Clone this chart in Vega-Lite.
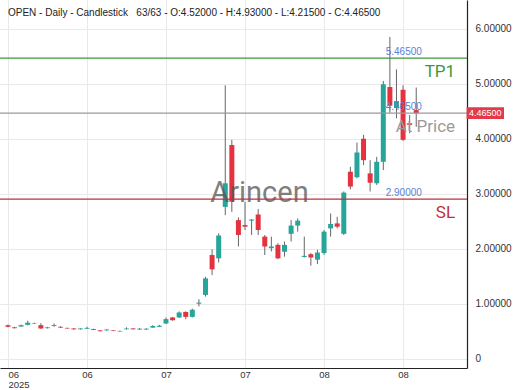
{
  "$schema": "https://vega.github.io/schema/vega-lite/v6.json",
  "width": 467,
  "height": 368,
  "autosize": "none",
  "padding": {"left": 0, "top": 0, "right": 53, "bottom": 22},
  "background": "white",
  "config": {
    "view": {"stroke": null},
    "font": "Liberation Sans",
    "axis": {"labelFont": "Liberation Sans", "labelColor": "#333", "ticks": false, "gridColor": "#e9e9e9", "gridWidth": 1, "domainColor": "#222", "domainWidth": 1.2, "title": null}
  },
  "title": {
    "text": "OPEN - Daily - Candlestick\u00a0\u00a0\u00a063/63 - O:4.52000 - H:4.93000 - L:4.21500 - C:4.46500",
    "anchor": "start",
    "frame": "group",
    "orient": "top",
    "offset": -18,
    "dx": 8,
    "fontSize": 10,
    "fontWeight": "normal",
    "font": "Liberation Sans",
    "color": "#222"
  },
  "datasets": {
    "candles": [
      {"i":0,"o":0.61,"h":0.62,"l":0.57,"c":0.58},
      {"i":1,"o":0.57,"h":0.58,"l":0.55,"c":0.555},
      {"i":2,"o":0.585,"h":0.62,"l":0.58,"c":0.61},
      {"i":3,"o":0.615,"h":0.69,"l":0.605,"c":0.655},
      {"i":4,"o":0.64,"h":0.655,"l":0.63,"c":0.65},
      {"i":5,"o":0.61,"h":0.645,"l":0.54,"c":0.55},
      {"i":6,"o":0.555,"h":0.58,"l":0.55,"c":0.57},
      {"i":7,"o":0.595,"h":0.64,"l":0.58,"c":0.61},
      {"i":8,"o":0.58,"h":0.59,"l":0.56,"c":0.565},
      {"i":9,"o":0.56,"h":0.565,"l":0.545,"c":0.55},
      {"i":10,"o":0.55,"h":0.555,"l":0.525,"c":0.535},
      {"i":11,"o":0.535,"h":0.555,"l":0.53,"c":0.55},
      {"i":12,"o":0.545,"h":0.58,"l":0.54,"c":0.56},
      {"i":13,"o":0.54,"h":0.545,"l":0.52,"c":0.525},
      {"i":14,"o":0.515,"h":0.52,"l":0.495,"c":0.5},
      {"i":15,"o":0.515,"h":0.535,"l":0.51,"c":0.53},
      {"i":16,"o":0.515,"h":0.52,"l":0.5,"c":0.505},
      {"i":17,"o":0.495,"h":0.51,"l":0.49,"c":0.505},
      {"i":18,"o":0.535,"h":0.57,"l":0.53,"c":0.55},
      {"i":19,"o":0.55,"h":0.555,"l":0.53,"c":0.535},
      {"i":20,"o":0.53,"h":0.56,"l":0.525,"c":0.545},
      {"i":21,"o":0.53,"h":0.555,"l":0.525,"c":0.545},
      {"i":22,"o":0.565,"h":0.61,"l":0.56,"c":0.595},
      {"i":23,"o":0.58,"h":0.615,"l":0.575,"c":0.60},
      {"i":24,"o":0.64,"h":0.75,"l":0.63,"c":0.72},
      {"i":25,"o":0.75,"h":0.76,"l":0.69,"c":0.70},
      {"i":26,"o":0.75,"h":0.86,"l":0.74,"c":0.84},
      {"i":27,"o":0.85,"h":0.86,"l":0.72,"c":0.76},
      {"i":28,"o":0.76,"h":0.91,"l":0.75,"c":0.89},
      {"i":29,"o":1.0,"h":1.08,"l":0.95,"c":1.02},
      {"i":30,"o":1.16,"h":1.49,"l":1.13,"c":1.46},
      {"i":31,"o":1.885,"h":1.99,"l":1.52,"c":1.625},
      {"i":32,"o":1.825,"h":2.28,"l":1.75,"c":2.24},
      {"i":33,"o":2.76,"h":4.97,"l":2.61,"c":3.19},
      {"i":34,"o":3.885,"h":3.98,"l":2.67,"c":2.855},
      {"i":35,"o":2.52,"h":2.57,"l":2.04,"c":2.25},
      {"i":36,"o":2.43,"h":2.85,"l":2.34,"c":2.40},
      {"i":37,"o":2.51,"h":2.54,"l":2.25,"c":2.53},
      {"i":38,"o":2.62,"h":2.72,"l":2.25,"c":2.34},
      {"i":39,"o":2.22,"h":2.25,"l":1.885,"c":2.04},
      {"i":40,"o":2.01,"h":2.22,"l":1.95,"c":2.04},
      {"i":41,"o":2.07,"h":2.10,"l":1.81,"c":1.825},
      {"i":42,"o":1.945,"h":2.13,"l":1.855,"c":2.07},
      {"i":43,"o":2.27,"h":2.52,"l":2.13,"c":2.42},
      {"i":44,"o":2.42,"h":2.55,"l":2.31,"c":2.51},
      {"i":45,"o":1.85,"h":2.22,"l":1.84,"c":1.87},
      {"i":46,"o":1.90,"h":1.92,"l":1.69,"c":1.84},
      {"i":47,"o":1.80,"h":1.98,"l":1.72,"c":1.93},
      {"i":48,"o":1.92,"h":2.34,"l":1.89,"c":2.31},
      {"i":49,"o":2.37,"h":2.64,"l":2.22,"c":2.45},
      {"i":50,"o":2.46,"h":2.58,"l":2.37,"c":2.40},
      {"i":51,"o":2.27,"h":3.04,"l":2.25,"c":3.02},
      {"i":52,"o":3.40,"h":3.49,"l":3.08,"c":3.13},
      {"i":53,"o":3.30,"h":3.93,"l":3.28,"c":3.75},
      {"i":54,"o":4.00,"h":4.07,"l":3.52,"c":3.61},
      {"i":55,"o":3.37,"h":3.61,"l":3.04,"c":3.20},
      {"i":56,"o":3.19,"h":3.67,"l":3.16,"c":3.58},
      {"i":57,"o":3.58,"h":5.05,"l":3.43,"c":4.99},
      {"i":58,"o":4.94,"h":5.85,"l":4.47,"c":4.60},
      {"i":59,"o":4.56,"h":5.26,"l":4.37,"c":4.685},
      {"i":60,"o":4.89,"h":4.97,"l":3.96,"c":3.98},
      {"i":61,"o":4.28,"h":4.43,"l":4.10,"c":4.25},
      {"i":62,"o":4.52,"h":4.93,"l":4.215,"c":4.465}
    ],
    "levels": [
      {"name": "TP1", "level": 5.465},
      {"name": "At Price", "level": 4.465},
      {"name": "SL", "level": 2.90}
    ]
  },
  "data": {"name": "candles"},
  "layer": [
    {
      "mark": {"type": "rule", "color": "#666", "strokeWidth": 1},
      "encoding": {
        "x": {
          "field": "i", "type": "quantitative",
          "scale": {"domain": [-0.446, 68.95], "nice": false, "zero": false},
          "axis": {
            "orient": "bottom",
            "values": [0, 12, 24, 36, 48, 60],
            "grid": true,
            "labelFontSize": 9.5,
            "labelLineHeight": 10,
            "labelPadding": 1,
            "labelFlush": false,
            "labelAlign": {"condition": {"test": "datum.value == 0", "value": "left"}, "value": "center"},
            "labelExpr": "datum.value == 0 ? ['\u00a0\u00a006', '2025'] : (datum.value < 24 ? '06' : (datum.value < 48 ? '07' : '08'))"
          }
        },
        "y": {
          "field": "l", "type": "quantitative",
          "scale": {"domain": [-0.169, 6.522], "nice": false, "zero": false},
          "axis": {
            "orient": "right",
            "values": [0, 0.5, 1, 1.5, 2, 2.5, 3, 3.5, 4, 4.5, 5, 5.5, 6],
            "grid": true,
            "labelFontSize": 10,
            "labelPadding": 8,
            "labelExpr": "datum.value == 0 ? '0' : format(datum.value, '.5f')"
          }
        },
        "y2": {"field": "h"}
      }
    },
    {
      "mark": {"type": "bar", "size": 5},
      "encoding": {
        "x": {"field": "i", "type": "quantitative"},
        "y": {"field": "o", "type": "quantitative"},
        "y2": {"field": "c"},
        "color": {
          "condition": {"test": "datum.c >= datum.o", "value": "#26a69a"},
          "value": "#e5323e"
        }
      }
    },
    {
      "data": {"values": [{"label": "Arincen"}]},
      "mark": {"type": "text", "fontSize": 29, "font": "Roboto", "color": "#555", "opacity": 0.75, "align": "center", "baseline": "middle"},
      "encoding": {
        "x": {"datum": 38.2},
        "y": {"datum": 3.01},
        "text": {"field": "label"}
      }
    },
    {
      "data": {"name": "levels"},
      "mark": {"type": "rule", "strokeWidth": 1.2},
      "encoding": {
        "y": {"field": "level", "type": "quantitative"},
        "color": {
          "field": "name", "type": "nominal", "legend": null,
          "scale": {"domain": ["TP1", "At Price", "SL"], "range": ["#3b993b", "#9a9a9a", "#c0303a"]}
        }
      }
    },
    {
      "data": {"name": "levels"},
      "mark": {"type": "text", "align": "right", "baseline": "middle", "dy": -6, "fontSize": 10, "font": "Liberation Sans", "color": "#5a7fd8"},
      "encoding": {
        "x": {"datum": 62.85},
        "y": {"field": "level", "type": "quantitative"},
        "text": {"field": "level", "type": "quantitative", "format": ".5f"}
      }
    },
    {
      "data": {"name": "levels"},
      "mark": {"type": "text", "align": "right", "baseline": "alphabetic", "dy": 19, "fontSize": 17, "font": "Roboto"},
      "encoding": {
        "x": {"datum": 67.9},
        "y": {"field": "level", "type": "quantitative"},
        "text": {"field": "name"},
        "color": {
          "field": "name", "type": "nominal", "legend": null,
          "scale": {"domain": ["TP1", "At Price", "SL"], "range": ["#2e8b2e", "#8a8a8a", "#c62a32"]}
        }
      }
    },
    {
      "data": {"values": [{"level": 4.465}]},
      "mark": {"type": "rect", "color": "#e5394a"},
      "encoding": {
        "x": {"datum": 69.65},
        "x2": {"datum": 75.33},
        "y": {"datum": 4.57},
        "y2": {"datum": 4.36}
      }
    },
    {
      "data": {"values": [{"level": 4.465}]},
      "mark": {"type": "text", "align": "center", "baseline": "middle", "fontSize": 9, "color": "white", "font": "Liberation Sans"},
      "encoding": {
        "x": {"datum": 72.49},
        "y": {"field": "level", "type": "quantitative"},
        "text": {"field": "level", "type": "quantitative", "format": ".5f"}
      }
    }
  ]
}
